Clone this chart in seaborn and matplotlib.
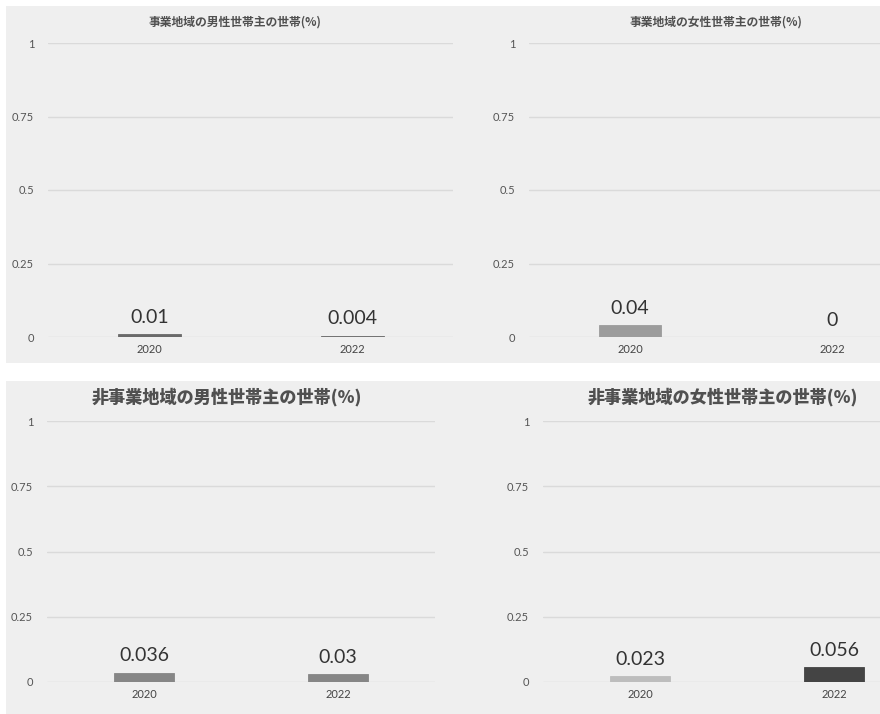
import numpy as np
import pandas as pd
import seaborn as sns
import matplotlib.pyplot as plt
from matplotlib.patches import Rectangle

# データ
years = ['2020', '2022']
male_project = [0.01, 0.004]
female_project = [0.04, 0.0]
male_nonproject = [0.036, 0.03]
female_nonproject = [0.023, 0.056]

male_project_labels = ['0.01', '0.004']
female_project_labels = ['0.04', '0']
male_nonproject_labels = ['0.036', '0.03']
female_nonproject_labels = ['0.023', '0.056']

titles = ['事業地域の男性世帯主の世帯(%)', '事業地域の女性世帯主の世帯(%)',
          '非事業地域の男性世帯主の世帯(%)', '非事業地域の女性世帯主の世帯(%)']
y_ticks = [0, 0.25, 0.5, 0.75, 1]
y_tick_labels = ['0', '0.25', '0.5', '0.75', '1']

sns.set_theme(style='white')
plt.rcParams['font.family'] = ['Lato', 'Noto Sans CJK JP', 'DejaVu Sans']

W, H = 880, 714
fig = plt.figure(figsize=(W / 100, H / 100), dpi=100, facecolor='white')

# 背景パネル (灰色)
bg = '#efefef'
fig.patches.append(Rectangle((6 / W, 1 - 363 / H), 874 / W, 357 / H,
                             transform=fig.transFigure, facecolor=bg, edgecolor='none', zorder=-1))
fig.patches.append(Rectangle((6 / W, 0), 874 / W, 1 - 381 / H,
                             transform=fig.transFigure, facecolor=bg, edgecolor='none', zorder=-1))


def make_ax(left, right, top, bottom):
    return fig.add_axes([left / W, 1 - bottom / H, (right - left) / W, (bottom - top) / H])


panels = [
    # (left, right, top, bottom, center of first bar, spacing, values, labels, colors, title, title size, title x, title y, weight)
    (48, 453, 43, 337, 149, 203, male_project, male_project_labels, ['#6a6a6a', '#6a6a6a'], titles[0], 8.5, 235, 22, 'bold'),
    (529, 880, 43, 337, 630, 202, female_project, female_project_labels, ['#9c9c9c', '#9c9c9c'], titles[1], 8.5, 716, 22, 'bold'),
    (47, 435, 421, 682, 144, 194, male_nonproject, male_nonproject_labels, ['#868686', '#868686'], titles[2], 12.3, 227, 397, 'heavy'),
    (543, 880, 421, 682, 640, 194, female_nonproject, female_nonproject_labels, ['#bdbdbd', '#444444'], titles[3], 12.3, 723, 397, 'heavy'),
]

for left, right, top, bottom, c0, sp, vals, labels, colors, title, tsize, tx, ty, tw in panels:
    ax = make_ax(left, right, top, bottom)
    ax.set_facecolor('none')
    df = pd.DataFrame({'year': years, 'value': vals})
    sns.barplot(data=df, x='year', y='value', hue='year', palette=colors,
                width=0.31, legend=False, ax=ax, zorder=3, linewidth=0)
    for cont, lab in zip(ax.containers, labels):
        for p in cont:
            if p.get_height() > 0:
                p.set_edgecolor(p.get_facecolor())
                p.set_linewidth(0.6)
        ax.bar_label(cont, labels=[lab], padding=6, fontsize=14, color='#333333')
    ax.set_ylim(0, 1)
    ax.set_xlim(-0.5, -0.5 + (right - left) / sp)
    ax.set_yticks(y_ticks)
    ax.set_yticklabels(y_tick_labels)
    ax.yaxis.grid(True, color='#dadada', linewidth=1)
    ax.set_axisbelow(True)
    for s in ax.spines.values():
        s.set_visible(False)
    ax.tick_params(axis='y', labelsize=8, colors='#555555', pad=10, length=0)
    ax.tick_params(axis='x', labelsize=8, colors='#444444', pad=5, length=0)
    ax.set_xlabel('')
    ax.set_ylabel('')
    # タイトル
    fig.text(tx / W, 1 - ty / H, title, ha='center', va='center', fontsize=tsize,
             fontweight=tw, color='#505050',
             family=['Noto Sans CJK JP', 'DejaVu Sans'])

fig.savefig('out.png', dpi=100, facecolor='white')
